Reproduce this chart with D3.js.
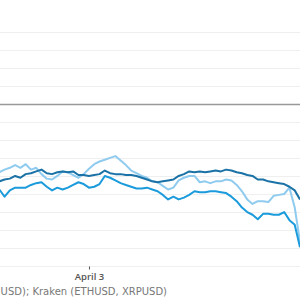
<!DOCTYPE html>
<html>
<head>
<meta charset="utf-8">
<script src="https://cdn.jsdelivr.net/npm/d3@7"></script>
<style>
  body { margin: 0; background: #fff; }
  svg { display: block; font-family: "Open Sans", sans-serif; }
</style>
</head>
<body>
<svg id="chart" width="300" height="300"></svg>
<script>
// percent change, one reading every 6 hours from 2024-03-29 18:00 UTC
var start = new Date(Date.UTC(2024, 2, 29, 18));
var stepHours = 6;

var btc = [-8.6,-8.4,-8.3,-8.0,-8.2,-7.8,-7.7,-7.5,-7.3,-7.7,-7.8,-7.6,-7.5,-7.6,-7.5,-7.9,-7.9,-8.0,-7.9,-7.8,
  -7.4,-7.7,-7.8,-7.8,-7.9,-7.9,-8.0,-8.2,-8.4,-8.6,-8.7,-8.6,-8.5,-8.4,-8.0,-7.8,-7.5,-7.6,-7.5,-7.6,
  -7.5,-7.4,-7.5,-7.3,-7.4,-7.6,-7.7,-7.9,-8.0,-8.4,-8.4,-8.6,-8.7,-8.8,-8.9,-9.2,-9.6,-10.6];
var eth = [-7.6,-7.3,-7.1,-6.8,-7.1,-6.7,-7.3,-7.1,-7.8,-8.3,-8.4,-8.0,-7.5,-7.6,-7.9,-8.2,-7.8,-7.2,-6.7,-6.4,
  -6.2,-6.0,-5.8,-6.3,-6.8,-7.4,-7.7,-8.0,-8.2,-8.6,-8.7,-9.1,-9.5,-9.3,-8.5,-8.2,-8.0,-8.0,-8.7,-8.6,
  -8.8,-8.6,-8.6,-8.4,-8.5,-9.0,-9.7,-10.6,-11.1,-10.8,-10.8,-10.9,-10.2,-10.1,-10.0,-9.3,-11.5,-15.3];
var xrp = [-9.5,-10.3,-9.6,-9.3,-9.3,-9.3,-9.0,-8.8,-8.7,-9.2,-9.6,-9.3,-9.5,-9.3,-9.0,-8.7,-8.9,-9.3,-9.2,-8.9,
  -8.0,-8.2,-8.5,-8.8,-9.0,-9.2,-9.4,-9.4,-9.3,-9.5,-9.7,-10.1,-10.6,-10.3,-10.6,-10.4,-10.1,-9.7,-9.8,-9.8,
  -9.7,-9.7,-9.8,-9.9,-10.3,-10.8,-11.5,-12.0,-12.3,-12.8,-12.2,-12.2,-12.3,-12.3,-12.0,-12.9,-13.4,-15.9];

var gridValues = [8, 6, 4, 2, 0, -2, -4, -6, -8, -10, -12, -14, -16, -18];
var tickDates = [new Date(Date.UTC(2024, 3, 3))];
var tickLabels = ["April 3"];
var sourceNote = "USD); Kraken (ETHUSD, XRPUSD)";

var series = [
  { name: "eth", values: eth, color: "#8fcbef" },
  { name: "xrp", values: xrp, color: "#1b9bdb" },
  { name: "btc", values: btc, color: "#1a72a6" }
];

var svg = d3.select("#chart");

var x = d3.scaleUtc()
    .domain([start, new Date(Date.UTC(2024, 3, 13, 0))])
    .range([-0.7, 300]);
var y = d3.scaleLinear().domain([-18, 8]).range([266.2, 31.5]);

function dateAt(i) { return new Date(start.getTime() + i * stepHours * 3600 * 1000); }

svg.append("g").selectAll("line").data(gridValues).enter().append("line")
    .attr("x1", 0).attr("x2", 300)
    .attr("y1", function(d) { return Math.round(y(d)) + 0.5; })
    .attr("y2", function(d) { return Math.round(y(d)) + 0.5; })
    .attr("stroke", function(d) { return d == 0 ? "#999" : "#efefef"; })
    .attr("stroke-width", function(d) { return d == 0 ? 1.6 : 1; });

var line = d3.line()
    .x(function(d, i) { return x(dateAt(i)); })
    .y(function(d) { return y(d); });

svg.append("g").selectAll("path").data(series).enter().append("path")
    .attr("d", function(s) { return line(s.values); })
    .attr("fill", "none")
    .attr("stroke", function(s) { return s.color; })
    .attr("stroke-width", 2)
    .attr("stroke-linejoin", "round");

var axis = svg.append("g")
    .attr("transform", "translate(0," + (Math.round(y(-18)) + 0.5) + ")")
    .call(d3.axisBottom(x).tickValues(tickDates).tickSize(3).tickPadding(4)
      .tickFormat(function(d, i) { return tickLabels[i]; }));
axis.select(".domain").remove();
axis.selectAll(".tick line").attr("stroke", "#555");
axis.selectAll(".tick text")
    .attr("font-size", 9.5).attr("font-weight", 600).attr("fill", "#555")
    .attr("font-family", "'Open Sans', sans-serif");

svg.append("text")
    .attr("x", 167).attr("y", 294.5)
    .attr("text-anchor", "end")
    .attr("font-size", 10).attr("fill", "#777")
    .attr("font-family", "'DejaVu Sans', sans-serif")
    .text(sourceNote);
</script>
</body>
</html>
